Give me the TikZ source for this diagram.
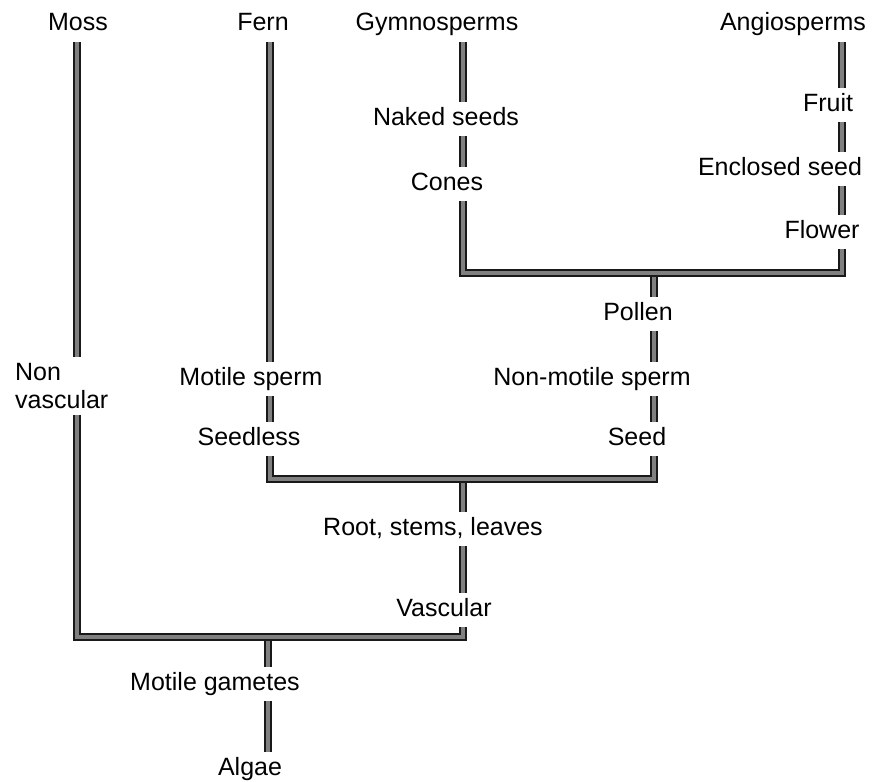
\documentclass[tikz,border=0pt]{standalone}
\usepackage{fontspec}
\setmainfont{Liberation Sans}
\begin{document}
\begin{tikzpicture}[x=1pt,y=-1pt,
	lblbase/.style={font=\fontsize{25}{28}\selectfont,inner sep=6pt},
	lbl/.style={lblbase,text height=17pt,text depth=5pt},
	stem/.style={draw=black!90,line width=1.7pt,double=black!50,double distance=4.6pt}]
	\useasboundingbox (0,0) rectangle (885,781);
	\coordinate (colM) at (77,0);
	\coordinate (colF) at (270,0);
	\coordinate (colG) at (463,0);
	\coordinate (colP) at (654,0);
	\coordinate (colA) at (842,0);
	\coordinate (jGA) at (654,273);
	\coordinate (jFS) at (463,479);
	\coordinate (jBase) at (268,637);
	\node[lbl] (moss) at (78,25) {Moss};
	\node[lbl] (fern) at (263,25) {Fern};
	\node[lbl] (gymno) at (437,25) {Gymnosperms};
	\node[lbl] (angio) at (793,25) {Angiosperms};
	\node[lbl] (naked) at (446,119) {Naked seeds};
	\node[lbl] (cones) at (447,184) {Cones};
	\node[lbl] (fruit) at (828,105) {Fruit};
	\node[lbl] (enclosed) at (780,169) {Enclosed seed};
	\node[lbl] (flower) at (822,232) {Flower};
	\node[lbl] (pollen) at (638,314) {Pollen};
	\node[lbl] (nonmotile) at (592,379) {Non-motile sperm};
	\node[lbl] (seed) at (637,439) {Seed};
	\node[lbl] (motsperm) at (251,379) {Motile sperm};
	\node[lbl] (seedless) at (249,439) {Seedless};
	\node[lblbase,align=left,anchor=west] (nonvasc) at (9,386) {Non\\vascular};
	\node[lbl] (root) at (433,529) {Root, stems, leaves};
	\node[lbl] (vascular) at (444,610) {Vascular};
	\node[lbl] (gametes) at (215,684) {Motile gametes};
	\node[lbl] (algae) at (250,769) {Algae};
	\draw[stem] (gymno.south -| colG) -- (naked.north -| colG);
	\draw[stem] (naked.south -| colG) -- (cones.north -| colG);
	\draw[stem] (angio.south -| colA) -- (fruit.north -| colA);
	\draw[stem] (fruit.south -| colA) -- (enclosed.north -| colA);
	\draw[stem] (enclosed.south -| colA) -- (flower.north -| colA);
	\draw[stem] (jGA) -- (pollen.north -| colP);
	\draw[stem] (cones.south -| colG) |- (jGA) -| (flower.south -| colA);
	\draw[stem] (pollen.south -| colP) -- (nonmotile.north -| colP);
	\draw[stem] (nonmotile.south -| colP) -- (seed.north -| colP);
	\draw[stem] (fern.south -| colF) -- (motsperm.north -| colF);
	\draw[stem] (motsperm.south -| colF) -- (seedless.north -| colF);
	\draw[stem] (jFS) -- (root.north -| colG);
	\draw[stem] (seedless.south -| colF) |- (jFS) -| (seed.south -| colP);
	\draw[stem] (root.south -| colG) -- (vascular.north -| colG);
	\draw[stem] (moss.south -| colM) -- (nonvasc.north -| colM);
	\draw[stem] (jBase) -- (gametes.north -| jBase);
	\draw[stem] (nonvasc.south -| colM) |- (jBase) -| (vascular.south -| colG);
	\draw[stem] (gametes.south -| jBase) -- (algae.north -| jBase);
\end{tikzpicture}
\end{document}
